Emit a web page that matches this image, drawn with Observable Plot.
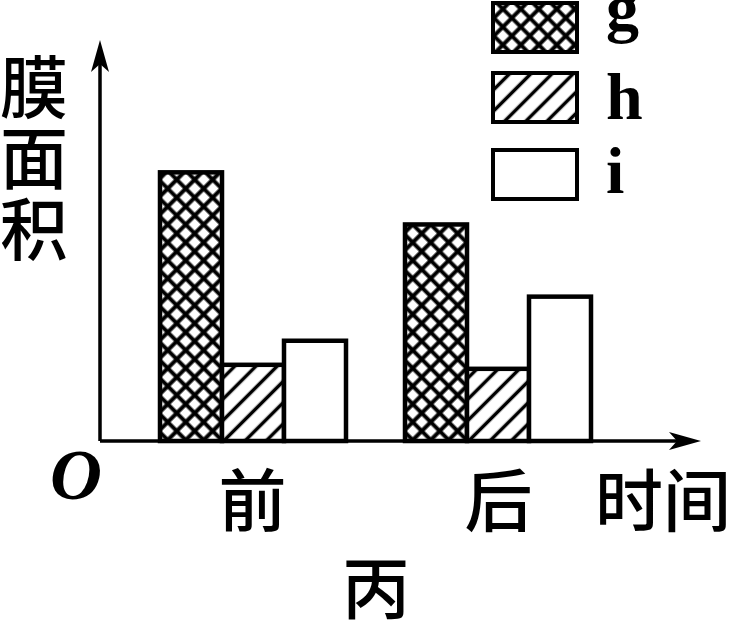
<!DOCTYPE html>
<html>
<head>
<meta charset="utf-8">
<script src="https://cdn.jsdelivr.net/npm/d3@7"></script>
<script src="https://cdn.jsdelivr.net/npm/@observablehq/plot@0.6"></script>
<style>
  html, body { margin: 0; padding: 0; background: #fff; }
  #chart svg { display: block; }
</style>
</head>
<body>
<div id="chart"></div>
<script>
// ---- data ----
const times = ["前", "后"];
const series = ["g", "h", "i"];
const gValues = [6.7, 5.4];
const hValues = [1.9, 1.8];
const iValues = [2.5, 3.6];
const yLabel = "膜面积";
const xLabel = "时间";
const caption = "丙";
const originLabel = "O";

const valuesBySeries = { g: gValues, h: hValues, i: iValues };
const rows = times.flatMap((t, k) => series.map(s => ({ time: t, series: s, value: valuesBySeries[s][k] })));
const fills = { g: "url(#pat-cross)", h: "url(#pat-hatch)", i: "white" };

// ---- layout ----
const W = 731, H = 622;
const ML = 100, MR = 80, MT = 40, MB = 181;
const CJK = "'Noto Sans CJK SC', 'Noto Sans CJK JP', sans-serif";
const SERIF = "'Liberation Serif', 'DejaVu Serif', serif";

const plot = Plot.plot({
  width: W,
  height: H,
  marginLeft: ML, marginRight: MR, marginTop: MT, marginBottom: MB,
  facet: { data: rows, x: "time", marginTop: 0, marginBottom: 0, marginLeft: 0, marginRight: 0 },
  fx: { domain: times, paddingInner: 0.24, paddingOuter: 0.24, axis: null, label: null },
  x: { domain: series, padding: 0, axis: null, label: null },
  y: { domain: [0, 10], axis: null, label: null },
  style: { background: "white", overflow: "visible" },
  marks: series.map(s => Plot.barY(rows, {
    filter: d => d.series === s,
    x: "series",
    y: "value",
    fill: fills[s],
    stroke: "black",
    strokeWidth: 4.5,
    strokeLinejoin: "miter"
  }))
});

document.getElementById("chart").appendChild(plot);

// ---- decorations from the plot's own scales ----
const svg = d3.select(plot);
const fxInfo = plot.scale("fx");
const yInfo = plot.scale("y");
const fx = d3.scaleBand().domain(fxInfo.domain).range(fxInfo.range)
  .paddingInner(fxInfo.paddingInner ?? 0.24).paddingOuter(fxInfo.paddingOuter ?? 0.24).align(fxInfo.align ?? 0.5);
const y = d3.scaleLinear().domain(yInfo.domain).range(yInfo.range);

const defs = svg.insert("defs", ":first-child");
const ct = 12.7;
const cross = defs.append("pattern").attr("id", "pat-cross")
  .attr("patternUnits", "userSpaceOnUse").attr("width", ct).attr("height", ct)
  .attr("patternTransform", "rotate(45)");
cross.append("rect").attr("width", ct).attr("height", ct).attr("fill", "white");
cross.append("path").attr("d", `M0,${ct / 2}H${ct}M${ct / 2},0V${ct}`).attr("stroke", "black").attr("stroke-width", 4);
const ht = 15;
const hatch = defs.append("pattern").attr("id", "pat-hatch")
  .attr("patternUnits", "userSpaceOnUse").attr("width", ht).attr("height", ht)
  .attr("patternTransform", "rotate(45)");
hatch.append("rect").attr("width", ht).attr("height", ht).attr("fill", "white");
hatch.append("path").attr("d", `M${ht / 2},0V${ht}`).attr("stroke", "black").attr("stroke-width", 3.5);

const x0 = fx.range()[0];
const y0 = y(0);
const yTop = y(y.domain()[1]);
const xEnd = W - 30;
const deco = svg.append("g").attr("text-anchor", "start");
deco.append("path").attr("d", `M${x0},${y0}V${yTop + 20}M${x0},${y0}H${xEnd - 20}`)
  .attr("stroke", "black").attr("stroke-width", 3.5).attr("fill", "none");
deco.append("path").attr("d", `M${x0},${yTop}L${x0 - 9},${yTop + 32}L${x0},${yTop + 24}L${x0 + 9},${yTop + 32}Z`).attr("fill", "black");
deco.append("path").attr("d", `M${xEnd},${y0}L${xEnd - 32},${y0 - 9}L${xEnd - 24},${y0}L${xEnd - 32},${y0 + 9}Z`).attr("fill", "black");

// y label (vertical stack)
Array.from(yLabel).forEach((ch, k) => {
  deco.append("text").text(ch).attr("x", 34).attr("y", 113 + k * 71)
    .attr("text-anchor", "middle").attr("font-family", CJK).attr("font-size", 68).attr("font-weight", 500).attr("fill", "black");
});
// origin
deco.append("text").text(originLabel).attr("x", 76).attr("y", 499).attr("text-anchor", "middle")
  .attr("font-family", SERIF).attr("font-style", "italic").attr("font-weight", "bold").attr("font-size", 72).attr("fill", "black");
// category labels
times.forEach(t => {
  deco.append("text").text(t).attr("x", fx(t) + fx.bandwidth() / 2).attr("y", 526).attr("text-anchor", "middle")
    .attr("font-family", CJK).attr("font-size", 68).attr("font-weight", 500).attr("fill", "black");
});
// x label
deco.append("text").text(xLabel).attr("x", 663).attr("y", 526).attr("text-anchor", "middle")
  .attr("font-family", CJK).attr("font-size", 68).attr("font-weight", 500).attr("fill", "black");
// caption
deco.append("text").text(caption).attr("x", 376).attr("y", 614).attr("text-anchor", "middle")
  .attr("font-family", CJK).attr("font-size", 68).attr("font-weight", 500).attr("fill", "black");

// legend
const legendTops = [3, 73, 150];
const legendBase = [30, 119, 193];
series.forEach((s, k) => {
  deco.append("rect").attr("x", 493).attr("y", legendTops[k]).attr("width", 84).attr("height", 49)
    .attr("fill", fills[s]).attr("stroke", "black").attr("stroke-width", 4);
  deco.append("text").text(s).attr("x", 606).attr("y", legendBase[k]).attr("text-anchor", "start")
    .attr("font-family", SERIF).attr("font-weight", "bold").attr("font-size", 66).attr("fill", "black");
});
</script>
</body>
</html>
